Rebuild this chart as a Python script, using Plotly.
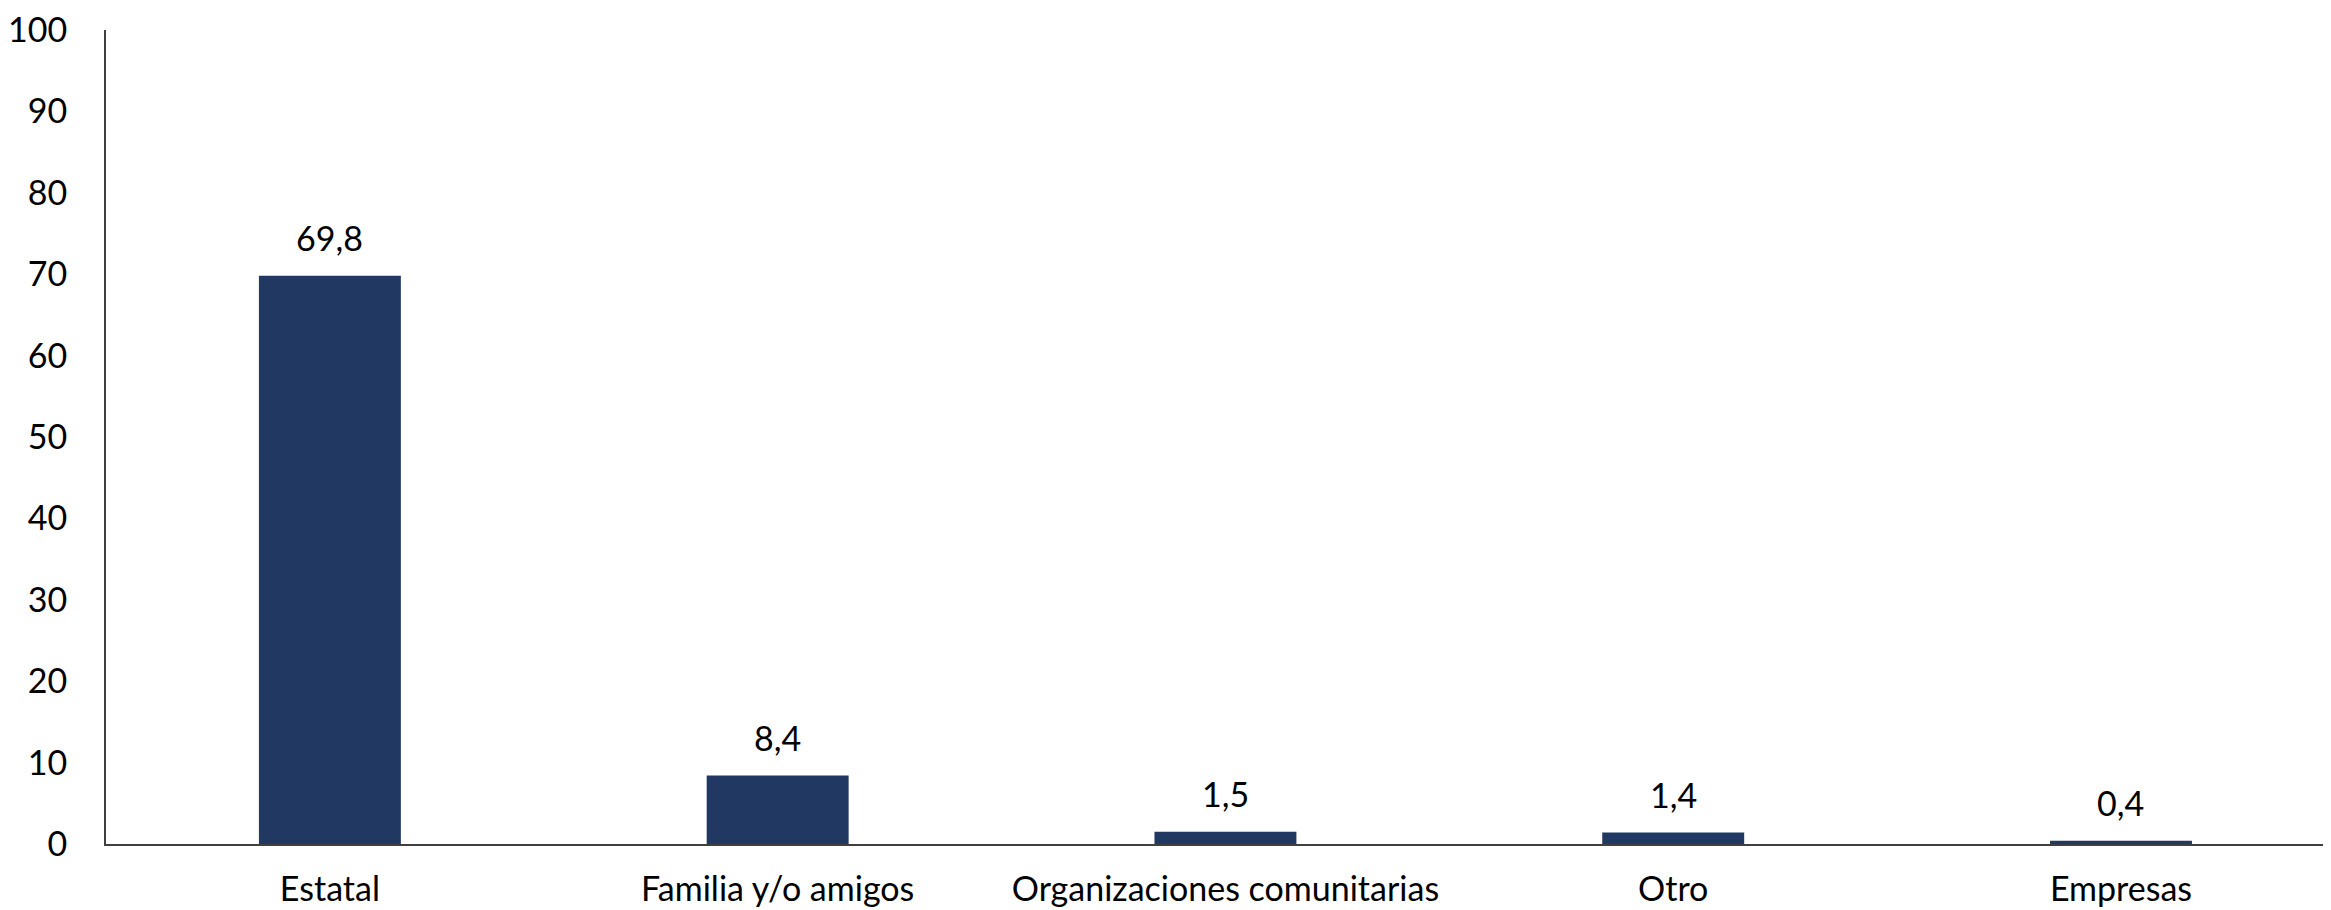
import plotly.graph_objects as go

categories = ["Estatal", "Familia y/o amigos", "Organizaciones comunitarias", "Otro", "Empresas"]
values = [69.8, 8.4, 1.5, 1.4, 0.4]
y_ticks = [0, 10, 20, 30, 40, 50, 60, 70, 80, 90, 100]

FONT = "Lato"
FS = 34
fig = go.Figure()
fig.add_trace(go.Bar(
    x=categories, y=values,
    marker=dict(color="#213862", line=dict(width=0)),
    width=0.317,
))

for c, v in zip(categories, values):
    fig.add_annotation(
        x=c, y=v, text=f"{v:.1f}".replace(".", ","),
        showarrow=False, yanchor="bottom", yshift=16,
        font=dict(family=FONT, size=FS, color="black"),
    )

fig.update_layout(
    width=2323, height=902,
    margin=dict(l=97, r=0, t=18, b=66),
    plot_bgcolor="white", paper_bgcolor="white",
    showlegend=False,
    separators=",.",
    font=dict(family=FONT, size=FS, color="black"),
    xaxis=dict(
        range=[-0.5, 4.469],
        showline=True, linecolor="#404040", linewidth=2,
        ticks="", showgrid=False, zeroline=False,
        ticklabelstandoff=14,
        ticklabeloverflow="allow",
        tickfont=dict(family=FONT, size=FS, color="black"),
    ),
    yaxis=dict(
        range=[0, 100],
        tickvals=y_ticks,
        showline=True, linecolor="#404040", linewidth=2,
        ticks="", showgrid=False, zeroline=False,
        ticklabelstandoff=30,
        ticklabeloverflow="allow",
        tickfont=dict(family=FONT, size=FS, color="black"),
    ),
)

fig.write_html("out.html")
